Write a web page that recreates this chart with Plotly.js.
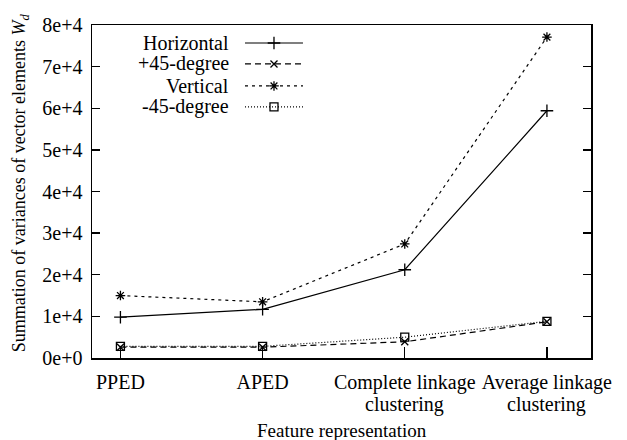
<!DOCTYPE html>
<html><head><meta charset="utf-8">
<script src="https://cdn.plot.ly/plotly-3.0.1.min.js"></script>
<style>html,body{margin:0;padding:0;background:#fff}</style>
</head><body><div id="chart" style="width:627px;height:440px"></div>
<script>
const categories = ["PPED", "APED", "Complete linkage", "Average linkage"];
const categorySecondLine = ["", "", "clustering", "clustering"];
const seriesNames = ["Horizontal", "+45-degree", "Vertical", "-45-degree"];
const horizontal = [9800, 11700, 21200, 59400];
const plus45 = [2600, 2600, 3900, 8700];
const vertical = [15000, 13500, 27400, 77100];
const minus45 = [2800, 2800, 5000, 8800];
const yTickVals = [0, 10000, 20000, 30000, 40000, 50000, 60000, 70000, 80000];
const yTickText = ["0e+0", "1e+4", "2e+4", "3e+4", "4e+4", "5e+4", "6e+4", "7e+4", "8e+4"];
const xTitle = "Feature representation";
const yTitle = "Summation of variances of vector elements <i>W<sub>d</sub></i>";

const FONT = "'Liberation Serif', 'Times New Roman', serif";
const FS = 20;
const styles = [
  {dash: "solid", symbol: "cross-thin-open", size: 9},
  {dash: "6px,4px", symbol: "x-thin-open", size: 7},
  {dash: "3px,4px", symbol: "asterisk-open", size: 8},
  {dash: "1px,2px", symbol: "square-open", size: 8}
];
const data = [horizontal, plus45, vertical, minus45];

const traces = data.map((vals, i) => ({
  type: "scatter", mode: "lines+markers", x: categories, y: vals, name: seriesNames[i],
  line: {color: "#000", width: 1.2, dash: styles[i].dash},
  marker: {symbol: styles[i].symbol, size: styles[i].size, color: "#000", line: {color: "#000", width: 1.3}},
  showlegend: false, cliponaxis: false
}));

const annotations = [];
// second line of the category labels
categories.forEach((c, i) => {
  if (categorySecondLine[i]) annotations.push({xref: "x", yref: "paper", x: c, y: -0.141,
    xanchor: "center", yanchor: "middle", text: categorySecondLine[i], showarrow: false,
    font: {family: FONT, size: FS, color: "#000"}});
});
// axis titles
annotations.push({xref: "paper", yref: "paper", x: 0.5, y: -0.218, xanchor: "center", yanchor: "middle",
  text: xTitle, showarrow: false, font: {family: FONT, size: 19, color: "#000"}});
annotations.push({xref: "paper", yref: "paper", x: -0.144, y: 0.525, xanchor: "center", yanchor: "middle",
  textangle: -90, text: yTitle, showarrow: false, font: {family: FONT, size: 18, color: "#000"}});

// custom gnuplot-style legend (text left, sample right)
const legY = [0.946, 0.883, 0.817, 0.754];
seriesNames.forEach((n, i) => {
  traces.push({type: "scatter", mode: "lines", x: [0.3066, 0.4228], y: [legY[i], legY[i]],
    xaxis: "x2", yaxis: "y2", showlegend: false, hoverinfo: "skip",
    line: {color: "#000", width: 1.2, dash: styles[i].dash}});
  traces.push({type: "scatter", mode: "markers", x: [0.3647], y: [legY[i]],
    xaxis: "x2", yaxis: "y2", showlegend: false, hoverinfo: "skip",
    marker: {symbol: styles[i].symbol, size: styles[i].size, color: "#000", line: {color: "#000", width: 1.3}}});
  annotations.push({xref: "paper", yref: "paper", x: 0.2786, y: legY[i], xanchor: "right", yanchor: "middle",
    text: n, showarrow: false, font: {family: FONT, size: FS, color: "#000"}});
});

const layout = {
  width: 627, height: 440,
  margin: {l: 92, r: 36, t: 25, b: 82},
  paper_bgcolor: "#fff", plot_bgcolor: "#fff",
  font: {family: FONT, size: FS, color: "#000"},
  showlegend: false,
  xaxis: {
    type: "category", range: [-0.2, 3.31],
    showline: true, linecolor: "#000", linewidth: 1.5, mirror: true,
    ticks: "inside", ticklen: 11, tickwidth: 1.3, tickcolor: "#000",
    ticklabelstandoff: 5,
    tickfont: {family: FONT, size: FS},
    showgrid: false, zeroline: false
  },
  yaxis: {
    range: [0, 80000], tickvals: yTickVals, ticktext: yTickText,
    showline: true, linecolor: "#000", linewidth: 1.5, mirror: "ticks",
    ticks: "inside", ticklen: 8, tickwidth: 1.3, tickcolor: "#000",
    ticklabelstandoff: 4,
    tickfont: {family: FONT, size: FS},
    showgrid: false, zeroline: false
  },
  xaxis2: {overlaying: "x", range: [0, 1], visible: false, fixedrange: true},
  yaxis2: {overlaying: "y", range: [0, 1], visible: false, fixedrange: true},
  annotations: annotations
};
Plotly.newPlot("chart", traces, layout, {displayModeBar: false, staticPlot: true});
</script></body></html>
